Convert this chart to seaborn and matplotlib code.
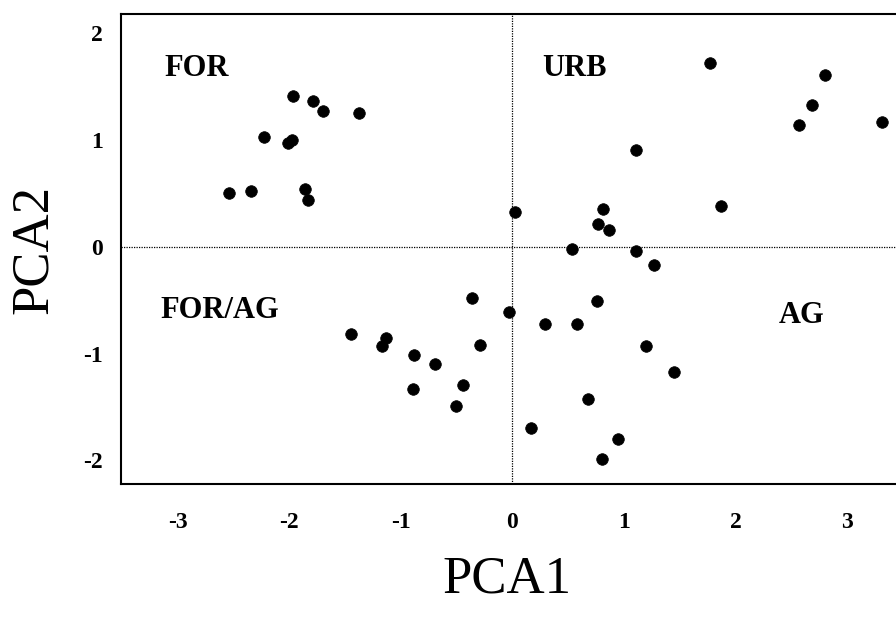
import matplotlib
matplotlib.use("Agg")
import matplotlib.pyplot as plt
import seaborn as sns
import pandas as pd

# ---- data ----
pca1 = [
    # FOR quadrant
    -1.97, -1.79, -1.70, -1.38, -2.23, -2.01, -1.98, -2.54, -2.34, -1.86, -1.83,
    # FOR/AG quadrant
    -0.36, -0.03, -1.45, -1.13, -1.17, -0.29, -0.88, -0.69, -0.44, -0.89, -0.51,
    # right half
    0.02, 0.81, 0.77, 0.87, 1.87, 0.53, 1.11, 1.27, 0.76, 0.29, 0.58, 1.20,
    1.45, 0.68, 0.17, 0.95, 0.80,
    # URB upper right
    1.77, 2.80, 2.69, 2.57, 3.31, 1.11,
]
pca2 = [
    1.41, 1.37, 1.27, 1.25, 1.03, 0.97, 1.00, 0.50, 0.52, 0.54, 0.44,
    -0.48, -0.61, -0.82, -0.85, -0.93, -0.92, -1.01, -1.10, -1.29, -1.33, -1.49,
    0.33, 0.35, 0.21, 0.16, 0.38, -0.02, -0.04, -0.17, -0.51, -0.72, -0.72, -0.93,
    -1.17, -1.42, -1.70, -1.80, -1.99,
    1.72, 1.61, 1.33, 1.14, 1.17, 0.91,
]
quadrant_labels = ["FOR", "URB", "FOR/AG", "AG"]
quadrant_x = [-2.83, 0.56, -2.62, 2.59]
quadrant_y = [1.67, 1.67, -0.60, -0.64]
x_ticks = [-3, -2, -1, 0, 1, 2, 3]
y_ticks = [-2, -1, 0, 1, 2]

df = pd.DataFrame({"PCA1": pca1, "PCA2": pca2})

sns.set_style("white")
plt.rcParams["font.family"] = ["Liberation Serif", "DejaVu Serif"]
plt.rcParams["text.color"] = "black"
plt.rcParams["axes.labelcolor"] = "black"
plt.rcParams["xtick.color"] = "black"
plt.rcParams["ytick.color"] = "black"

fig = plt.figure(figsize=(8.96, 6.27), dpi=100)
ax = fig.add_axes([121 / 896, 1 - 484 / 627, (896 - 121) / 896, (484 - 14) / 627])

ax.axvline(0, color="black", linestyle=(0, (1, 1)), linewidth=0.9, zorder=1)
ax.axhline(0, color="black", linestyle=(0, (1, 1)), linewidth=0.9, zorder=1)

sns.scatterplot(data=df, x="PCA1", y="PCA2", ax=ax, color="black",
                s=70, edgecolor="black", linewidth=0.5, zorder=3)

for lab, tx, ty in zip(quadrant_labels, quadrant_x, quadrant_y):
    ax.text(tx, ty, lab, ha="center", va="center", fontsize=22,
            fontweight="bold", color="black")

ax.set_xlim(-3.51, 3.44)
ax.set_ylim(-2.22, 2.18)
ax.set_xticks(x_ticks)
ax.set_yticks(y_ticks)
ax.set_xticklabels([str(v) for v in x_ticks], fontweight="bold")
ax.set_yticklabels([str(v) for v in y_ticks], fontweight="bold")
ax.tick_params(axis="x", length=0, pad=20, labelsize=17, labelcolor="black")
ax.tick_params(axis="y", length=0, pad=13, labelsize=17, labelcolor="black")

for side in ["left", "top", "bottom"]:
    ax.spines[side].set_visible(True)
    ax.spines[side].set_color("black")
    ax.spines[side].set_linewidth(1.5)
ax.spines["right"].set_visible(False)

ax.set_xlabel("PCA1", fontsize=38, va="center", ha="center", color="black")
ax.set_ylabel("PCA2", fontsize=38, va="center", ha="center", color="black")
ax.xaxis.set_label_coords(0.498, -0.204)
ax.yaxis.set_label_coords(-0.112, 0.498)

fig.savefig("out.png", dpi=100)
